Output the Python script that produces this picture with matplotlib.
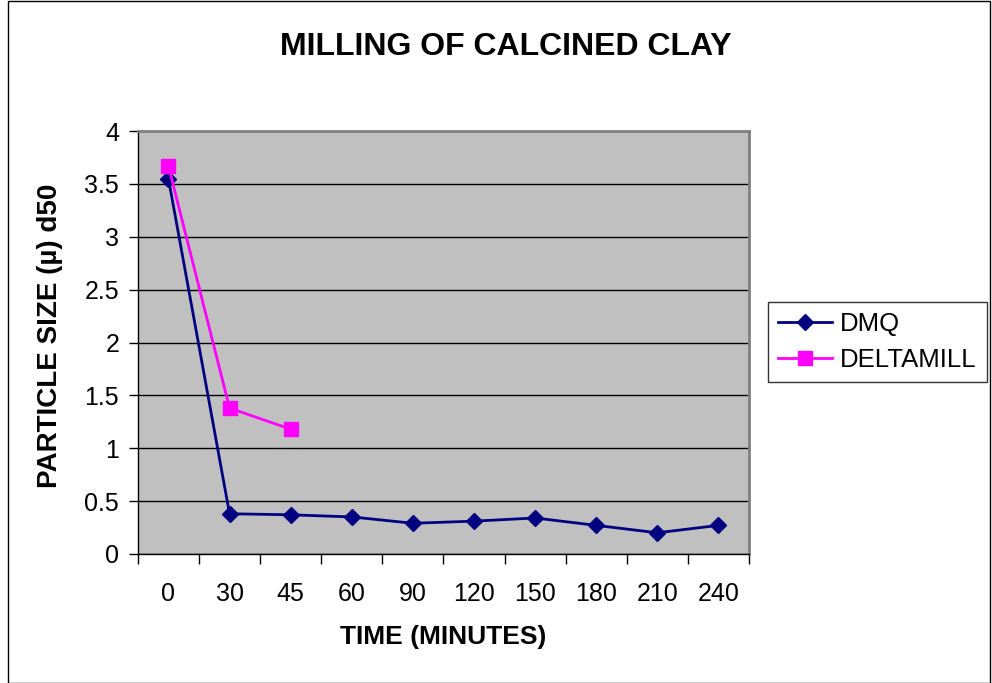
import numpy as np
import matplotlib
matplotlib.use("Agg")
import matplotlib.pyplot as plt
from matplotlib.patches import Rectangle

categories = ["0", "30", "45", "60", "90", "120", "150", "180", "210", "240"]
dmq = [3.55, 0.38, 0.37, 0.35, 0.29, 0.31, 0.34, 0.27, 0.20, 0.27]
deltamill = [3.67, 1.38, 1.18]

plt.rcParams['font.family'] = ['Liberation Sans', 'DejaVu Sans']

def main():
    fig = plt.figure(figsize=(9.92, 6.83), dpi=100)
    ax = fig.add_axes([0.139, 0.189, 0.616, 0.619])
    ax.set_facecolor("#C0C0C0")

    x = np.arange(len(categories))
    ax.plot(x, dmq, '-D', c="#000080", lw=2, markersize=8, label="DMQ", zorder=3)
    ax.plot(x[:len(deltamill)], deltamill, '-s', c="#FF00FF", lw=2, markersize=10,
            label="DELTAMILL", zorder=3)

    ax.set_xlim(-0.5, len(categories) - 0.5)
    ax.set_ylim(0, 4)
    ax.set_yticks(np.arange(0, 4.01, 0.5))
    ax.set_yticklabels(["0", "0.5", "1", "1.5", "2", "2.5", "3", "3.5", "4"])
    ax.yaxis.grid(True, color="black", lw=1)
    ax.set_axisbelow(True)

    ax.set_xticks(x)
    ax.set_xticklabels(categories)
    ax.tick_params(axis='x', length=0, pad=20, labelsize=18)
    ax.set_xticks(np.arange(-0.5, len(categories), 1), minor=True)
    ax.tick_params(axis='x', which='minor', length=7, direction='out', width=1)
    ax.tick_params(axis='y', length=6.5, width=1, labelsize=18, pad=7)

    for s in ["top", "right"]:
        ax.spines[s].set_color("#808080")
        ax.spines[s].set_linewidth(2)
    for s in ["left", "bottom"]:
        ax.spines[s].set_color("black")
        ax.spines[s].set_linewidth(1)

    ax.set_xlabel("TIME (MINUTES)", fontsize=19, fontweight="bold", labelpad=14)
    ax.set_ylabel("PARTICLE SIZE (\u00b5) d50", fontsize=20, fontweight="bold")
    ax.yaxis.set_label_coords(-0.123, 0.515)
    fig.text(0.51, 0.931, "MILLING OF CALCINED CLAY", ha="center", va="center",
             fontsize=23, fontweight="bold")

    leg = fig.legend(loc="center left", bbox_to_anchor=(0.774, 0.499), fontsize=18.5,
                     frameon=True, fancybox=False, edgecolor="black",
                     handlelength=2.1, borderpad=0.4, labelspacing=0.45,
                     handletextpad=0.3, borderaxespad=0)
    leg.get_frame().set_linewidth(1)

    fig.patches.append(Rectangle((0.008, 0.0), 0.99, 0.999, transform=fig.transFigure,
                                 fill=False, edgecolor="black", lw=1))

    fig.savefig("out.png", dpi=100)
    return 0

if __name__ == "__main__":
    main()
